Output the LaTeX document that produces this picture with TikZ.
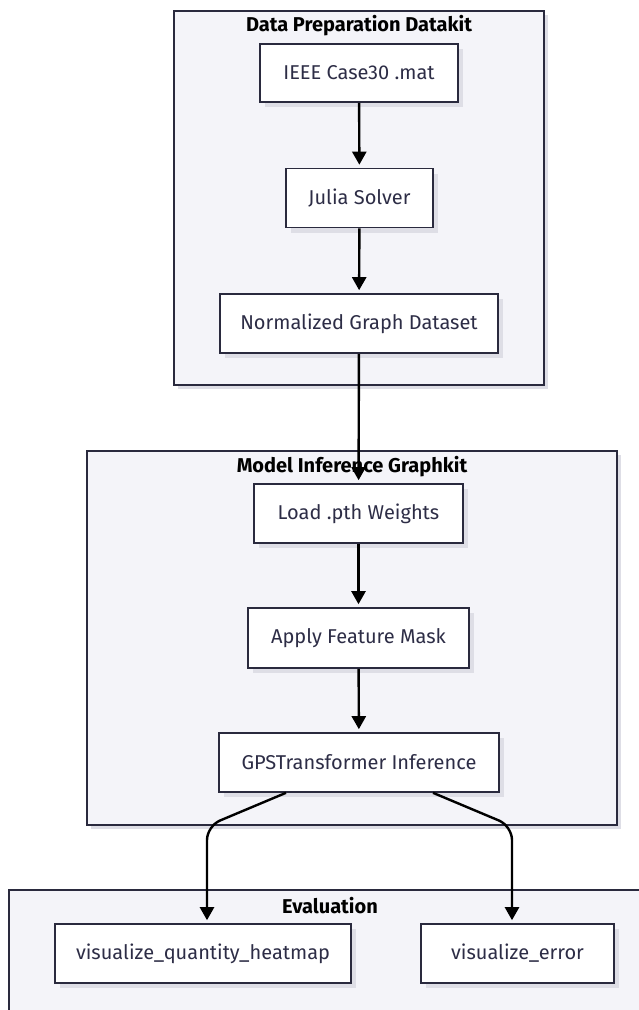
\documentclass[tikz,border=0pt]{standalone}
\usepackage{fontspec}
\setmainfont{Fira Sans}
\usetikzlibrary{arrows.meta,shadows,calc}
\definecolor{cfill}{RGB}{244,244,249}
\definecolor{cdraw}{RGB}{42,42,62}
\definecolor{ctext}{RGB}{45,45,70}
\definecolor{cshadow}{RGB}{222,222,230}
\begin{document}
\begin{tikzpicture}[x=1pt,y=-1pt,
  cluster/.style={draw=cdraw,fill=cfill,line width=1.6pt,
    drop shadow={shadow xshift=4pt,shadow yshift=-4pt,fill=cshadow,opacity=1}},
  box/.style={draw=cdraw,fill=white,line width=1.6pt,text=ctext,
    font=\fontsize{20}{22}\selectfont,inner sep=0pt,
    drop shadow={shadow xshift=5pt,shadow yshift=-5pt,fill=cshadow,opacity=1}},
  title/.style={font=\fontsize{20}{22}\selectfont\bfseries,text=black},
  edge/.style={draw=black,line width=2.4pt,-{Triangle[length=13pt,width=14pt]},shorten >=3pt}]
\useasboundingbox (0,0) rectangle (639,1010);
% clusters
\path[cluster] (174,11) rectangle (544,385);
\node[title] (t1) at (359,26) {Data Preparation Datakit};
\path[cluster] (87,451) rectangle (617,825);
\node[title] (t2) at (352,467) {Model Inference Graphkit};
\path[cluster] (9,890) rectangle (652,1020);
\node[title] (t3) at (330,906) {Evaluation};
% nodes
\node[box,minimum width=198pt,minimum height=58pt] (ieee) at (359,73) {IEEE Case30 .mat};
\node[box,minimum width=147pt,minimum height=59pt] (julia) at (359.5,198) {Julia Solver};
\node[box,minimum width=278pt,minimum height=59pt] (norm) at (359,323.5) {Normalized Graph Dataset};
\node[box,minimum width=209pt,minimum height=59pt] (load) at (358.5,513.5) {Load .pth Weights};
\node[box,minimum width=221pt,minimum height=60pt] (apply) at (358.5,638) {Apply Feature Mask};
\node[box,minimum width=280pt,minimum height=59pt] (gps) at (359,762.5) {GPSTransformer Inference};
\node[box,minimum width=296pt,minimum height=59pt] (lq) at (203,953.5) {visualize\_quantity\_heatmap};
\node[box,minimum width=193pt,minimum height=59pt] (le) at (517.5,953.5) {visualize\_error};
% edges
\draw[edge] (ieee) -- (julia);
\draw[edge] (julia) -- (norm);
\draw[edge] (norm) -- (load);
\draw[edge] (load) -- (apply);
\draw[edge] (apply) -- (gps);
\coordinate (bl) at (207,826);
\coordinate (br) at (512,826);
\draw[edge,rounded corners=14pt] ([xshift=-73pt]gps.south) -- (bl) -- (bl |- lq.north);
\draw[edge,rounded corners=14pt] ([xshift=74pt]gps.south) -- (br) -- (br |- le.north);
\end{tikzpicture}
\end{document}
